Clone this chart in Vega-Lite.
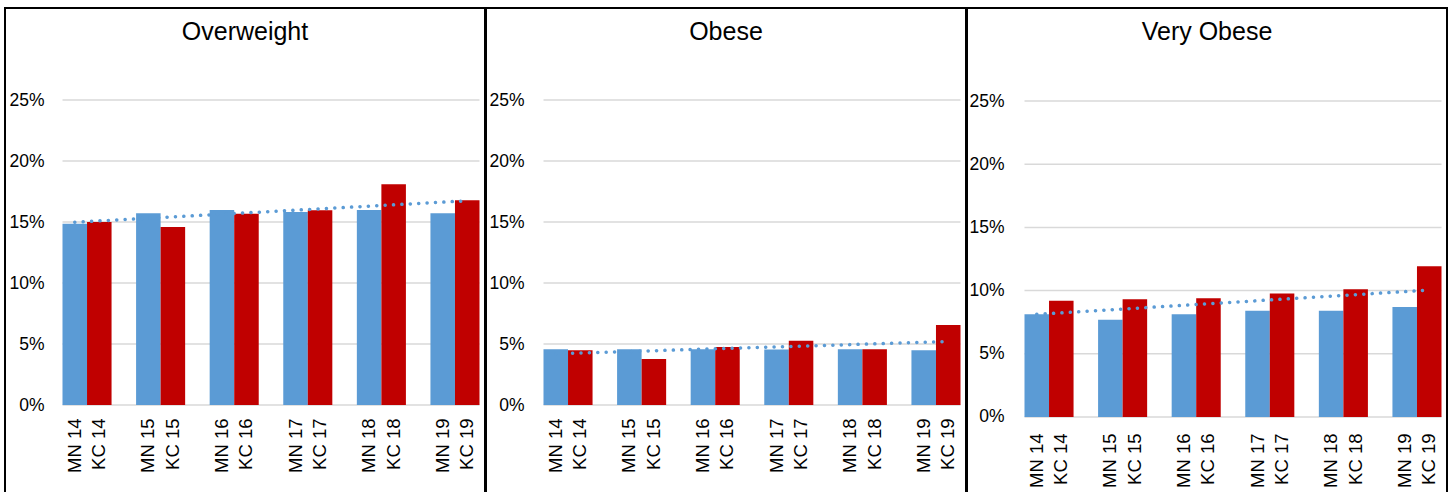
{
  "$schema": "https://vega.github.io/schema/vega-lite/v6.json",
  "padding": {"left": 4, "top": 7, "right": 0, "bottom": 0},
  "spacing": -1,
  "background": "white",
  "config": {
    "view": {"stroke": "#000000", "strokeWidth": 2},
    "font": "Liberation Sans",
    "axis": {"labelFont": "Liberation Sans", "labelFontSize": 17.5, "labelColor": "#000000", "domain": false, "ticks": false, "tickSize": 0, "grid": false, "labelOverlap": false, "title": null},
    "title": {"font": "Liberation Sans", "fontSize": 25, "fontWeight": "normal", "color": "#000000", "anchor": "middle", "frame": "group", "baseline": "alphabetic", "offset": -37}
  },
  "datasets": {
    "bars": [
      {"panel": "Overweight", "year": "14", "series": "MN", "value": 14.86},
      {"panel": "Overweight", "year": "14", "series": "KC", "value": 15.0},
      {"panel": "Overweight", "year": "15", "series": "MN", "value": 15.71},
      {"panel": "Overweight", "year": "15", "series": "KC", "value": 14.59},
      {"panel": "Overweight", "year": "16", "series": "MN", "value": 15.98},
      {"panel": "Overweight", "year": "16", "series": "KC", "value": 15.68},
      {"panel": "Overweight", "year": "17", "series": "MN", "value": 15.82},
      {"panel": "Overweight", "year": "17", "series": "KC", "value": 15.96},
      {"panel": "Overweight", "year": "18", "series": "MN", "value": 15.98},
      {"panel": "Overweight", "year": "18", "series": "KC", "value": 18.09},
      {"panel": "Overweight", "year": "19", "series": "MN", "value": 15.71},
      {"panel": "Overweight", "year": "19", "series": "KC", "value": 16.78},
      {"panel": "Obese", "year": "14", "series": "MN", "value": 4.56},
      {"panel": "Obese", "year": "14", "series": "KC", "value": 4.48},
      {"panel": "Obese", "year": "15", "series": "MN", "value": 4.56},
      {"panel": "Obese", "year": "15", "series": "KC", "value": 3.77},
      {"panel": "Obese", "year": "16", "series": "MN", "value": 4.58},
      {"panel": "Obese", "year": "16", "series": "KC", "value": 4.75},
      {"panel": "Obese", "year": "17", "series": "MN", "value": 4.54},
      {"panel": "Obese", "year": "17", "series": "KC", "value": 5.27},
      {"panel": "Obese", "year": "18", "series": "MN", "value": 4.56},
      {"panel": "Obese", "year": "18", "series": "KC", "value": 4.56},
      {"panel": "Obese", "year": "19", "series": "MN", "value": 4.48},
      {"panel": "Obese", "year": "19", "series": "KC", "value": 6.56},
      {"panel": "Very Obese", "year": "14", "series": "MN", "value": 8.12},
      {"panel": "Very Obese", "year": "14", "series": "KC", "value": 9.2},
      {"panel": "Very Obese", "year": "15", "series": "MN", "value": 7.7},
      {"panel": "Very Obese", "year": "15", "series": "KC", "value": 9.31},
      {"panel": "Very Obese", "year": "16", "series": "MN", "value": 8.12},
      {"panel": "Very Obese", "year": "16", "series": "KC", "value": 9.39},
      {"panel": "Very Obese", "year": "17", "series": "MN", "value": 8.41},
      {"panel": "Very Obese", "year": "17", "series": "KC", "value": 9.78},
      {"panel": "Very Obese", "year": "18", "series": "MN", "value": 8.41},
      {"panel": "Very Obese", "year": "18", "series": "KC", "value": 10.1},
      {"panel": "Very Obese", "year": "19", "series": "MN", "value": 8.7},
      {"panel": "Very Obese", "year": "19", "series": "KC", "value": 11.92}
    ],
    "trend": [
      {"panel": "Overweight", "year": "14", "series": "MN", "value": 14.98},
      {"panel": "Overweight", "year": "19", "series": "KC", "value": 16.74},
      {"panel": "Obese", "year": "14", "series": "MN", "value": 4.2},
      {"panel": "Obese", "year": "19", "series": "KC", "value": 5.2},
      {"panel": "Very Obese", "year": "14", "series": "MN", "value": 8.12},
      {"panel": "Very Obese", "year": "19", "series": "KC", "value": 10.04}
    ],
    "grid": [{"g": 0}, {"g": 5}, {"g": 10}, {"g": 15}, {"g": 20}, {"g": 25}]
  },
  "hconcat": [
    {
      "width": 480,
      "height": 485,
      "title": {"text": "Overweight"},
      "layer": [
        {
          "data": {"name": "grid"},
          "mark": {"type": "rule", "color": "#D9D9D9", "strokeWidth": 1.5},
          "encoding": {
            "y": {"field": "g", "type": "quantitative", "title": null},
            "x": {"datum": "14", "type": "nominal", "bandPosition": 0, "title": null},
            "x2": {"datum": "19", "bandPosition": 1}
          }
        },
        {
          "data": {"name": "bars"},
          "transform": [{"filter": "datum.panel === 'Overweight'"}],
          "mark": {"type": "bar"},
          "encoding": {
            "x": {"field": "year", "type": "nominal", "title": null,
              "scale": {"domain": ["14", "15", "16", "17", "18", "19"], "paddingInner": 0.3333, "paddingOuter": 0.428, "align": 0.9127},
              "axis": {"labelAngle": -90, "labelPadding": -75, "labelOffset": -12.25, "labelFontSize": 18.5, "labelExpr": "['MN ' + datum.label, 'KC ' + datum.label]", "labelLineHeight": 24.5}},
            "xOffset": {"field": "series", "type": "nominal", "scale": {"domain": ["MN", "KC"], "paddingInner": 0, "paddingOuter": 0}},
            "y": {"field": "value", "type": "quantitative", "title": null,
              "scale": {"domain": [-7.213, 32.541], "nice": false, "zero": false},
              "axis": {"values": [0, 5, 10, 15, 20, 25], "labelExpr": "datum.value + '%'", "labelPadding": -39}},
            "color": {"field": "series", "type": "nominal", "scale": {"domain": ["MN", "KC"], "range": ["#5B9BD5", "#C00000"]}, "legend": null}
          }
        },
        {
          "data": {"name": "trend"},
          "transform": [{"filter": "datum.panel === 'Overweight'"}],
          "mark": {"type": "line", "color": "#5B9BD5", "strokeWidth": 3.5, "strokeDash": [0.1, 8.3], "strokeCap": "round"},
          "encoding": {
            "x": {"field": "year", "type": "nominal", "title": null},
            "xOffset": {"field": "series", "type": "nominal"},
            "y": {"field": "value", "type": "quantitative", "title": null}
          }
        }
      ]
    },
    {
      "width": 480,
      "height": 485,
      "title": {"text": "Obese"},
      "layer": [
        {
          "data": {"name": "grid"},
          "mark": {"type": "rule", "color": "#D9D9D9", "strokeWidth": 1.5},
          "encoding": {
            "y": {"field": "g", "type": "quantitative", "title": null},
            "x": {"datum": "14", "type": "nominal", "bandPosition": 0, "title": null},
            "x2": {"datum": "19", "bandPosition": 1}
          }
        },
        {
          "data": {"name": "bars"},
          "transform": [{"filter": "datum.panel === 'Obese'"}],
          "mark": {"type": "bar"},
          "encoding": {
            "x": {"field": "year", "type": "nominal", "title": null,
              "scale": {"domain": ["14", "15", "16", "17", "18", "19"], "paddingInner": 0.3333, "paddingOuter": 0.428, "align": 0.9127},
              "axis": {"labelAngle": -90, "labelPadding": -75, "labelOffset": -12.25, "labelFontSize": 18.5, "labelExpr": "['MN ' + datum.label, 'KC ' + datum.label]", "labelLineHeight": 24.5}},
            "xOffset": {"field": "series", "type": "nominal", "scale": {"domain": ["MN", "KC"], "paddingInner": 0, "paddingOuter": 0}},
            "y": {"field": "value", "type": "quantitative", "title": null,
              "scale": {"domain": [-7.213, 32.541], "nice": false, "zero": false},
              "axis": {"values": [0, 5, 10, 15, 20, 25], "labelExpr": "datum.value + '%'", "labelPadding": -38}},
            "color": {"field": "series", "type": "nominal", "scale": {"domain": ["MN", "KC"], "range": ["#5B9BD5", "#C00000"]}, "legend": null}
          }
        },
        {
          "data": {"name": "trend"},
          "transform": [{"filter": "datum.panel === 'Obese'"}],
          "mark": {"type": "line", "color": "#5B9BD5", "strokeWidth": 3.5, "strokeDash": [0.1, 8.3], "strokeCap": "round"},
          "encoding": {
            "x": {"field": "year", "type": "nominal", "title": null},
            "xOffset": {"field": "series", "type": "nominal"},
            "y": {"field": "value", "type": "quantitative", "title": null}
          }
        }
      ]
    },
    {
      "width": 480,
      "height": 485,
      "title": {"text": "Very Obese"},
      "layer": [
        {
          "data": {"name": "grid"},
          "mark": {"type": "rule", "color": "#D9D9D9", "strokeWidth": 1.5},
          "encoding": {
            "y": {"field": "g", "type": "quantitative", "title": null},
            "x": {"datum": "14", "type": "nominal", "bandPosition": 0, "title": null},
            "x2": {"datum": "19", "bandPosition": 1}
          }
        },
        {
          "data": {"name": "bars"},
          "transform": [{"filter": "datum.panel === 'Very Obese'"}],
          "mark": {"type": "bar"},
          "encoding": {
            "x": {"field": "year", "type": "nominal", "title": null,
              "scale": {"domain": ["14", "15", "16", "17", "18", "19"], "paddingInner": 0.3333, "paddingOuter": 0.428, "align": 0.9127},
              "axis": {"labelAngle": -90, "labelPadding": -60, "labelOffset": -12.25, "labelFontSize": 18.5, "labelExpr": "['MN ' + datum.label, 'KC ' + datum.label]", "labelLineHeight": 24.5}},
            "xOffset": {"field": "series", "type": "nominal", "scale": {"domain": ["MN", "KC"], "paddingInner": 0, "paddingOuter": 0}},
            "y": {"field": "value", "type": "quantitative", "title": null,
              "scale": {"domain": [-6.013, 32.358], "nice": false, "zero": false},
              "axis": {"values": [0, 5, 10, 15, 20, 25], "labelExpr": "datum.value + '%'", "labelPadding": -37}},
            "color": {"field": "series", "type": "nominal", "scale": {"domain": ["MN", "KC"], "range": ["#5B9BD5", "#C00000"]}, "legend": null}
          }
        },
        {
          "data": {"name": "trend"},
          "transform": [{"filter": "datum.panel === 'Very Obese'"}],
          "mark": {"type": "line", "color": "#5B9BD5", "strokeWidth": 3.5, "strokeDash": [0.1, 8.3], "strokeCap": "round"},
          "encoding": {
            "x": {"field": "year", "type": "nominal", "title": null},
            "xOffset": {"field": "series", "type": "nominal"},
            "y": {"field": "value", "type": "quantitative", "title": null}
          }
        }
      ]
    }
  ]
}
